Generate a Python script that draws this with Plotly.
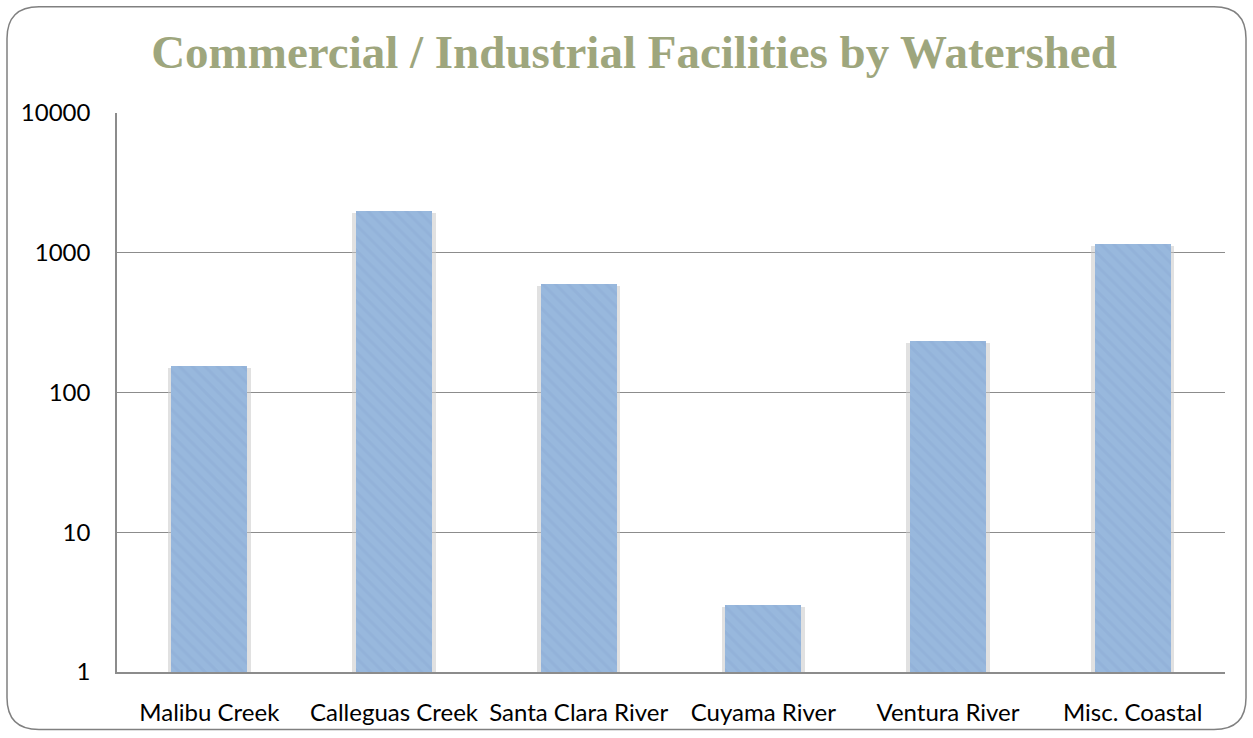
import plotly.graph_objects as go

categories = ["Malibu Creek", "Calleguas Creek", "Santa Clara River", "Cuyama River", "Ventura River", "Misc. Coastal"]
facilities = [154, 1980, 600, 3, 232, 1154]
tick_vals = [1, 10, 100, 1000, 10000]
tick_text = ["1", "10", "100", "1000", "10000"]

W, H = 1253, 738
L, R, T, B = 117, 28, 113, 62
pw, ph = W - L - R, H - T - B

def px(x):
    return (x - L) / pw

def py(y):
    return (H - B - y) / ph

fig = go.Figure()
# soft shadow behind the bars
fig.add_trace(go.Bar(
    x=categories, y=[v * 0.97 for v in facilities], width=0.45,
    marker=dict(color="rgba(200,200,200,0.55)", line=dict(width=0)),
    hoverinfo="skip", showlegend=False,
))
fig.add_trace(go.Bar(
    x=categories, y=facilities, width=0.41,
    marker=dict(color="#98B8DD", line=dict(width=0),
                pattern=dict(shape="\\", fgcolor="#86A6CF", size=9, solidity=0.35, fgopacity=0.3)),
    showlegend=False,
))

# rounded border
x0, x1, y0, y1, r = 7, 1246, 6, 734, 32
path = (f"M {px(x0+r)},{py(y0)} L {px(x1-r)},{py(y0)} Q {px(x1)},{py(y0)} {px(x1)},{py(y0+r)} "
        f"L {px(x1)},{py(y1-r)} Q {px(x1)},{py(y1)} {px(x1-r)},{py(y1)} "
        f"L {px(x0+r)},{py(y1)} Q {px(x0)},{py(y1)} {px(x0)},{py(y1-r)} "
        f"L {px(x0)},{py(y0+r)} Q {px(x0)},{py(y0)} {px(x0+r)},{py(y0)} Z")

fig.update_layout(
    width=W, height=H,
    margin=dict(l=L, r=R, t=T, b=B),
    paper_bgcolor="white", plot_bgcolor="white",
    barmode="overlay", bargap=0,
    title=dict(text="<b>Commercial / Industrial Facilities by Watershed</b>",
               x=634 / W, xanchor="center", xref="container", y=1 - 52 / H, yanchor="middle",
               font=dict(family="Liberation Serif", size=47, color="#9EA67D")),
    shapes=[dict(type="path", path=path, xref="paper", yref="paper",
                 line=dict(color="#808080", width=1.5), layer="below")],
    font=dict(family="Lato", color="#000000"),
)
fig.update_yaxes(type="log", range=[0, 4], tickvals=tick_vals, ticktext=tick_text,
                 showgrid=True, gridcolor="#8C8C8C", gridwidth=1,
                 showline=True, linecolor="#8C8C8C", linewidth=1.5,
                 ticks="", tickfont=dict(size=24), ticklabelstandoff=20, zeroline=False)
fig.update_xaxes(showline=True, linecolor="#8C8C8C", linewidth=1.5, ticks="",
                 tickfont=dict(size=24), ticklabelstandoff=18)

fig.write_html("out.html", config={"displayModeBar": False},
               post_script="document.body.style.margin='0';document.body.style.overflow='hidden';")
